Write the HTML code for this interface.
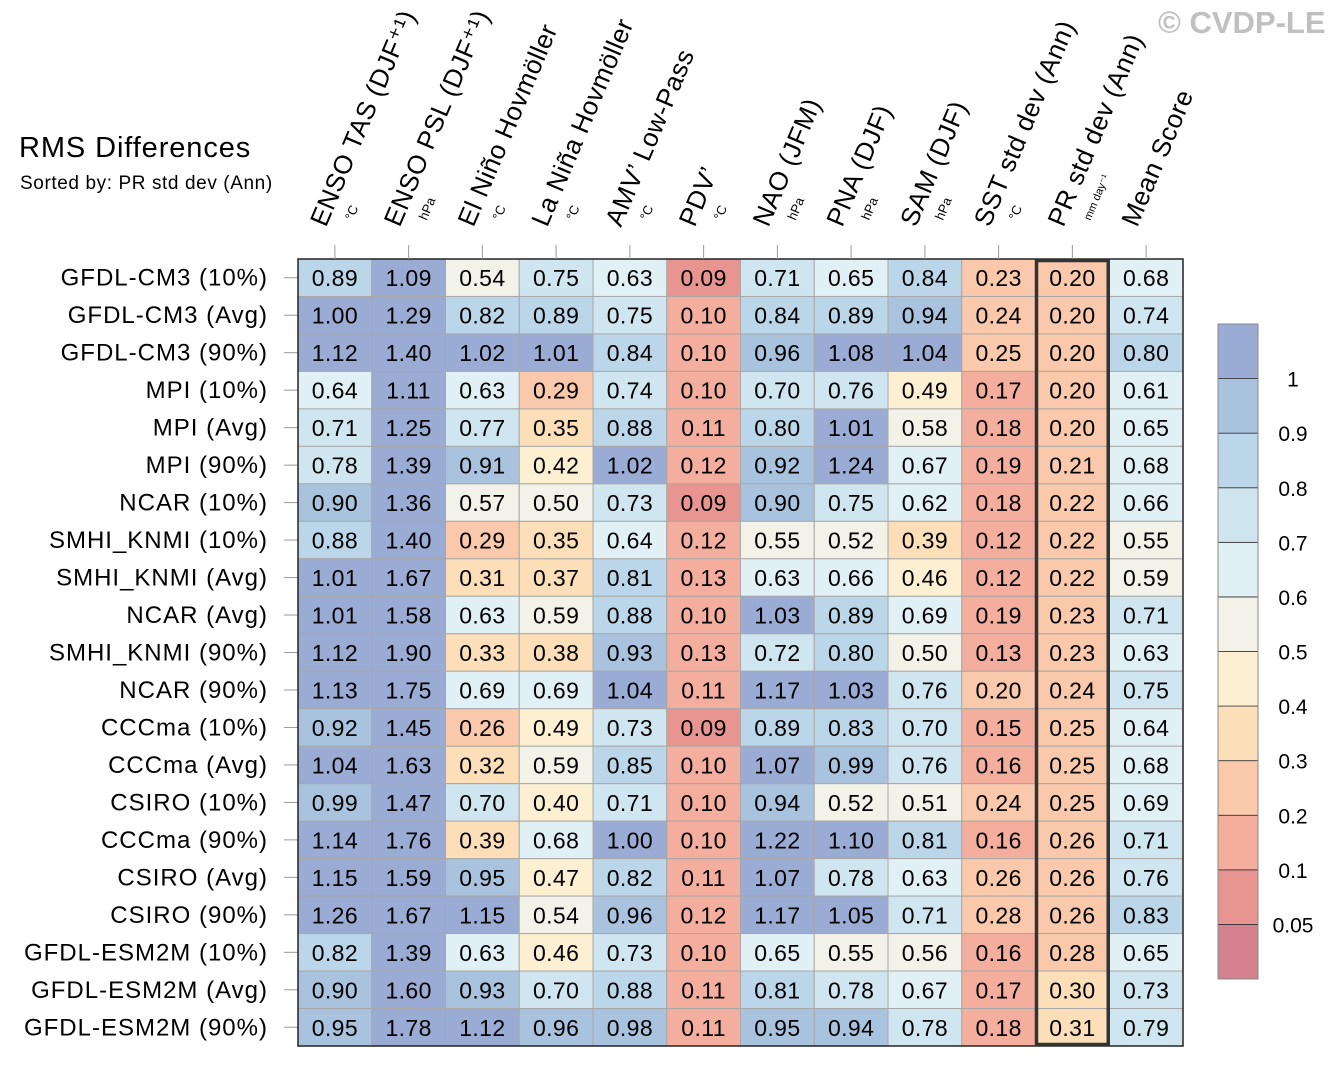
<!DOCTYPE html>
<html><head><meta charset="utf-8"><style>
body{margin:0;background:#fff}
svg{display:block;font-family:"Liberation Sans",Arial,sans-serif}
</style></head><body>
<svg id="c" width="1336" height="1067">
<text x="1158" y="33" font-size="31" font-weight="bold" fill="#c0c0c0">© CVDP-LE</text>
<text x="19" y="157" font-size="29" letter-spacing="0.9" fill="#000">RMS Differences</text>
<text x="20" y="189" font-size="19" letter-spacing="0.6" fill="#000">Sorted by: PR std dev (Ann)</text>
</svg>
<script>
const columns=["ENSO TAS (DJF⁺¹)","ENSO PSL (DJF⁺¹)","El Niño Hovmöller","La Niña Hovmöller","AMV’ Low-Pass","PDV’","NAO (JFM)","PNA (DJF)","SAM (DJF)","SST std dev (Ann)","PR std dev (Ann)","Mean Score"];
const units=["°C","hPa","°C","°C","°C","°C","hPa","hPa","hPa","°C","mm day⁻¹",""];
const rows=["GFDL-CM3 (10%)","GFDL-CM3 (Avg)","GFDL-CM3 (90%)","MPI (10%)","MPI (Avg)","MPI (90%)","NCAR (10%)","SMHI_KNMI (10%)","SMHI_KNMI (Avg)","NCAR (Avg)","SMHI_KNMI (90%)","NCAR (90%)","CCCma (10%)","CCCma (Avg)","CSIRO (10%)","CCCma (90%)","CSIRO (Avg)","CSIRO (90%)","GFDL-ESM2M (10%)","GFDL-ESM2M (Avg)","GFDL-ESM2M (90%)"];
const values=[
[0.89,1.09,0.54,0.75,0.63,0.09,0.71,0.65,0.84,0.23,0.20,0.68],
[1.00,1.29,0.82,0.89,0.75,0.10,0.84,0.89,0.94,0.24,0.20,0.74],
[1.12,1.40,1.02,1.01,0.84,0.10,0.96,1.08,1.04,0.25,0.20,0.80],
[0.64,1.11,0.63,0.29,0.74,0.10,0.70,0.76,0.49,0.17,0.20,0.61],
[0.71,1.25,0.77,0.35,0.88,0.11,0.80,1.01,0.58,0.18,0.20,0.65],
[0.78,1.39,0.91,0.42,1.02,0.12,0.92,1.24,0.67,0.19,0.21,0.68],
[0.90,1.36,0.57,0.50,0.73,0.09,0.90,0.75,0.62,0.18,0.22,0.66],
[0.88,1.40,0.29,0.35,0.64,0.12,0.55,0.52,0.39,0.12,0.22,0.55],
[1.01,1.67,0.31,0.37,0.81,0.13,0.63,0.66,0.46,0.12,0.22,0.59],
[1.01,1.58,0.63,0.59,0.88,0.10,1.03,0.89,0.69,0.19,0.23,0.71],
[1.12,1.90,0.33,0.38,0.93,0.13,0.72,0.80,0.50,0.13,0.23,0.63],
[1.13,1.75,0.69,0.69,1.04,0.11,1.17,1.03,0.76,0.20,0.24,0.75],
[0.92,1.45,0.26,0.49,0.73,0.09,0.89,0.83,0.70,0.15,0.25,0.64],
[1.04,1.63,0.32,0.59,0.85,0.10,1.07,0.99,0.76,0.16,0.25,0.68],
[0.99,1.47,0.70,0.40,0.71,0.10,0.94,0.52,0.51,0.24,0.25,0.69],
[1.14,1.76,0.39,0.68,1.00,0.10,1.22,1.10,0.81,0.16,0.26,0.71],
[1.15,1.59,0.95,0.47,0.82,0.11,1.07,0.78,0.63,0.26,0.26,0.76],
[1.26,1.67,1.15,0.54,0.96,0.12,1.17,1.05,0.71,0.28,0.26,0.83],
[0.82,1.39,0.63,0.46,0.73,0.10,0.65,0.55,0.56,0.16,0.28,0.65],
[0.90,1.60,0.93,0.70,0.88,0.11,0.81,0.78,0.67,0.17,0.30,0.73],
[0.95,1.78,1.12,0.96,0.98,0.11,0.95,0.94,0.78,0.18,0.31,0.79]];
const levels=[0.05,0.1,0.2,0.3,0.4,0.5,0.6,0.7,0.8,0.9,1];
const levelLabels=["0.05","0.1","0.2","0.3","0.4","0.5","0.6","0.7","0.8","0.9","1"];
const colors=["#d3808f","#e89490","#f3ae9d","#fac8aa","#fcdfb9","#fdefd1","#f2f2e8","#e1f0f5","#cfe5ef","#bcd6e9","#a9c3de","#9aacd3"];
const highlightCol=10;

const svg=document.getElementById('c');
const NS='http://www.w3.org/2000/svg';
const X0=298,X1=1183,Y0=259,Y1=1046;
const cw=(X1-X0)/columns.length, rh=(Y1-Y0)/rows.length;
const xc=i=>X0+cw*i; const yr=j=>Y0+rh*j;
function colorOf(v){let k=0;for(let i=0;i<levels.length;i++){if(v>=levels[i]-1e-9)k=i+1;}return colors[k];}
function mk(tag,attrs,parent){const e=document.createElementNS(NS,tag);for(const k in attrs)e.setAttribute(k,attrs[k]);(parent||svg).appendChild(e);return e;}

rows.forEach((r,j)=>{
  values[j].forEach((v,i)=>{
    const g=mk('g',{});
    
    
    mk('rect',{x:xc(i),y:yr(j),width:cw,height:rh,fill:colorOf(v),stroke:'#a8a8a8','stroke-width':1},g);
    const t=mk('text',{x:xc(i)+cw/2,y:yr(j)+rh/2+8.5,'text-anchor':'middle','font-size':23,'letter-spacing':0.4,fill:'#000'},g);
    t.textContent=v.toFixed(2);
  });
  const l=mk('text',{x:268,y:yr(j)+rh/2+8,'text-anchor':'end','font-size':24,'letter-spacing':1,fill:'#000'});
  
  
  l.textContent=r;
  mk('line',{x1:284,x2:298,y1:yr(j)+rh/2,y2:yr(j)+rh/2,stroke:'#999','stroke-width':1});
});
mk('rect',{x:X0,y:Y0,width:X1-X0,height:Y1-Y0,fill:'none',stroke:'#222','stroke-width':1.5});
const hl=mk('rect',{x:xc(highlightCol)+1,y:Y0+1.5,width:cw-2,height:Y1-Y0-3,fill:'none',stroke:'#333','stroke-width':3.5});



columns.forEach((c,i)=>{
  const cx=xc(i)+cw/2;
  mk('line',{x1:cx,x2:cx,y1:245,y2:259,stroke:'#999','stroke-width':1});
  const t=mk('text',{x:0,y:0,'font-size':26,'letter-spacing':0.5,fill:'#000',transform:`translate(${cx-9},228) rotate(-67)`});
  
  
  t.textContent=c;
  if(units[i]){
    const u=mk('text',{x:0,y:0,'font-size':units[i]==='mm day⁻¹'?11:13,fill:'#000',transform:`translate(${cx+18},221) rotate(-67)`});
    
    
    u.textContent=units[i];
  }
});

// colorbar
const CB0=324,CB1=979,CBX=1218,CBW=40;
const bh=(CB1-CB0)/colors.length;
colors.forEach((col,k)=>{
  const y=CB1-bh*(k+1);
  const r=mk('rect',{x:CBX,y:y,width:CBW,height:bh,fill:col,stroke:'#333','stroke-width':0.8});
  
  
});
mk('rect',{x:CBX,y:CB0,width:CBW,height:CB1-CB0,fill:'none',stroke:'#888','stroke-width':1});
levelLabels.forEach((lb,k)=>{
  const y=CB1-bh*(k+1);
  const t=mk('text',{x:1293,y:y+8,'text-anchor':'middle','font-size':21,fill:'#000'});
  
  
  t.textContent=lb;
});
</script>
</body></html>
